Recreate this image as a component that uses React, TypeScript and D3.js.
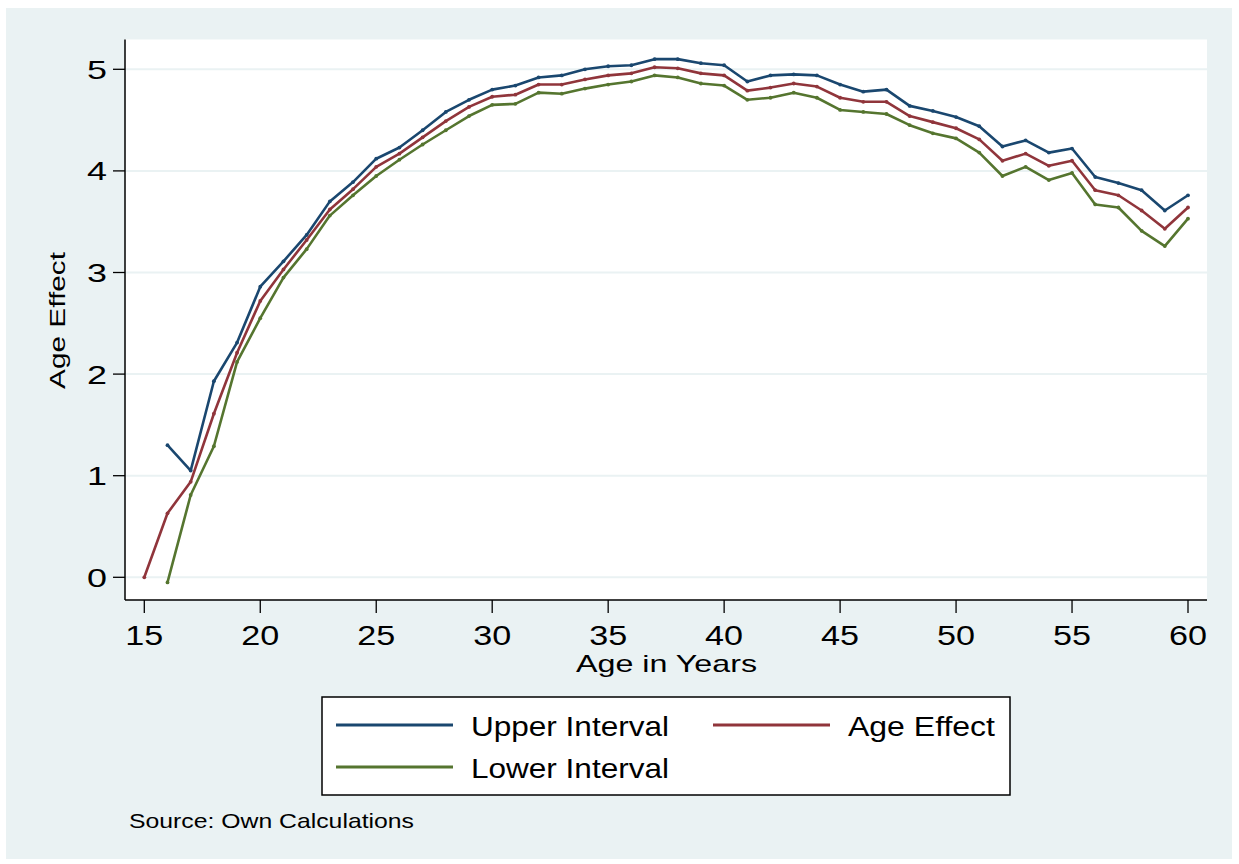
import * as d3 from "d3";

const ages = [
  15, 16, 17, 18, 19, 20, 21, 22, 23, 24, 25, 26, 27, 28, 29, 30, 31, 32, 33, 34, 35, 36, 37,
  38, 39, 40, 41, 42, 43, 44, 45, 46, 47, 48, 49, 50, 51, 52, 53, 54, 55, 56, 57, 58, 59, 60,
];

const upperInterval = [
  null, 1.3, 1.05, 1.93, 2.31, 2.86, 3.11, 3.37, 3.7, 3.89, 4.12, 4.23, 4.4, 4.58, 4.7, 4.8,
  4.84, 4.92, 4.94, 5.0, 5.03, 5.04, 5.1, 5.1, 5.06, 5.04, 4.88, 4.94, 4.95, 4.94, 4.85, 4.78,
  4.8, 4.64, 4.59, 4.53, 4.44, 4.24, 4.3, 4.18, 4.22, 3.94, 3.88, 3.81, 3.61, 3.76,
];

const ageEffect = [
  0, 0.63, 0.94, 1.61, 2.21, 2.72, 3.03, 3.32, 3.62, 3.82, 4.04, 4.17, 4.33, 4.49, 4.63, 4.73,
  4.75, 4.85, 4.85, 4.9, 4.94, 4.96, 5.02, 5.01, 4.96, 4.94, 4.79, 4.82, 4.86, 4.83, 4.72, 4.68,
  4.68, 4.54, 4.48, 4.42, 4.31, 4.1, 4.17, 4.05, 4.1, 3.81, 3.76, 3.61, 3.43, 3.64,
];

const lowerInterval = [
  null, -0.05, 0.81, 1.29, 2.12, 2.55, 2.95, 3.23, 3.56, 3.76, 3.95, 4.11, 4.26, 4.4, 4.54,
  4.65, 4.66, 4.77, 4.76, 4.81, 4.85, 4.88, 4.94, 4.92, 4.86, 4.84, 4.7, 4.72, 4.77, 4.72, 4.6,
  4.58, 4.56, 4.45, 4.37, 4.32, 4.18, 3.95, 4.04, 3.91, 3.98, 3.67, 3.64, 3.41, 3.26, 3.53,
];

const xTicks = [15, 20, 25, 30, 35, 40, 45, 50, 55, 60];
const yTicks = [0, 1, 2, 3, 4, 5];

const series = [
  { name: "Upper Interval", values: upperInterval, color: "#1a476f" },
  { name: "Age Effect", values: ageEffect, color: "#90353b" },
  { name: "Lower Interval", values: lowerInterval, color: "#55752f" },
];

const bg = "#eaf2f3";
const font = "'Liberation Sans', Arial, sans-serif";

export default function App() {
  const width = 1239;
  const height = 864;
  const plot = { left: 125, right: 1207, top: 39.5, bottom: 600 };

  const x = d3.scaleLinear().domain([15, 60]).range([144.3, 1188]);
  const y = d3.scaleLinear().domain([0, 5]).range([577.3, 69.3]);

  const line = d3
    .line<[number, number | null]>()
    .defined((d) => d[1] !== null)
    .x((d) => x(d[0]))
    .y((d) => y(d[1] as number));

  // legend slots: [lineX0, lineX1, textX, textWidth, rowY]
  const legendSlots = [
    { lx0: 336, lx1: 453, tx: 471, tw: 198, ly: 725 },
    { lx0: 713, lx1: 830, tx: 848, tw: 147, ly: 725 },
    { lx0: 336, lx1: 453, tx: 471, tw: 198, ly: 767 },
  ];

  return (
    <svg
      width={width}
      height={height}
      style={{ position: "absolute", left: 0, top: 0 }}
      fontFamily={font}
    >
      <rect x={0} y={0} width={width} height={height} fill="#fff" />
      <rect x={6} y={8} width={1226} height={851} fill={bg} />
      <rect
        x={plot.left}
        y={plot.top}
        width={plot.right - plot.left}
        height={plot.bottom - plot.top}
        fill="#fff"
      />

      {/* gridlines */}
      {yTicks.map((t) => (
        <line
          key={"g" + t}
          x1={plot.left}
          x2={plot.right}
          y1={y(t)}
          y2={y(t)}
          stroke={bg}
          strokeWidth={2}
        />
      ))}

      {/* series */}
      {series.map((s) => (
        <g key={s.name}>
          <path
            d={line(ages.map((a, i) => [a, s.values[i]]) as any) || ""}
            fill="none"
            stroke={s.color}
            strokeWidth={2.6}
            strokeLinejoin="round"
          />
          {ages.map((a, i) =>
            s.values[i] === null ? null : (
              <circle key={a} cx={x(a)} cy={y(s.values[i] as number)} r={1.9} fill={s.color} />
            ),
          )}
        </g>
      ))}

      {/* axes */}
      <line x1={plot.left} x2={plot.left} y1={plot.top} y2={plot.bottom} stroke="#000" strokeWidth={1.5} />
      <line x1={plot.left} x2={plot.right} y1={plot.bottom} y2={plot.bottom} stroke="#000" strokeWidth={1.5} />

      {yTicks.map((t) => (
        <g key={"y" + t}>
          <line x1={113} x2={plot.left} y1={y(t)} y2={y(t)} stroke="#000" strokeWidth={1.3} />
          <text
            x={107}
            y={y(t) + 9.5}
            textAnchor="end"
            fontSize={26.5}
            textLength={20}
            lengthAdjust="spacingAndGlyphs"
          >
            {t}
          </text>
        </g>
      ))}

      {xTicks.map((t) => (
        <g key={"x" + t}>
          <line x1={x(t)} x2={x(t)} y1={plot.bottom} y2={613} stroke="#000" strokeWidth={1.3} />
          <text
            x={x(t) - 19}
            y={645}
            fontSize={28}
            textLength={38}
            lengthAdjust="spacingAndGlyphs"
          >
            {t}
          </text>
        </g>
      ))}

      <text
        x={576}
        y={672}
        fontSize={24}
        textLength={181}
        lengthAdjust="spacingAndGlyphs"
      >
        Age in Years
      </text>
      <text
        transform="translate(65, 389) rotate(-90)"
        fontSize={22.5}
        textLength={137}
        lengthAdjust="spacingAndGlyphs"
      >
        Age Effect
      </text>

      {/* legend */}
      <rect x={322} y={697} width={688} height={98} fill="#fff" stroke="#000" strokeWidth={1.5} />
      {series.map((s, i) => {
        const slot = legendSlots[i];
        return (
          <g key={"l" + s.name}>
            <line x1={slot.lx0} x2={slot.lx1} y1={slot.ly} y2={slot.ly} stroke={s.color} strokeWidth={2.8} />
            <text
              x={slot.tx}
              y={slot.ly + 11}
              fontSize={27.5}
              textLength={slot.tw}
              lengthAdjust="spacingAndGlyphs"
            >
              {s.name}
            </text>
          </g>
        );
      })}

      <text
        x={129}
        y={828}
        fontSize={21}
        textLength={285}
        lengthAdjust="spacingAndGlyphs"
      >
        Source: Own Calculations
      </text>
    </svg>
  );
}
